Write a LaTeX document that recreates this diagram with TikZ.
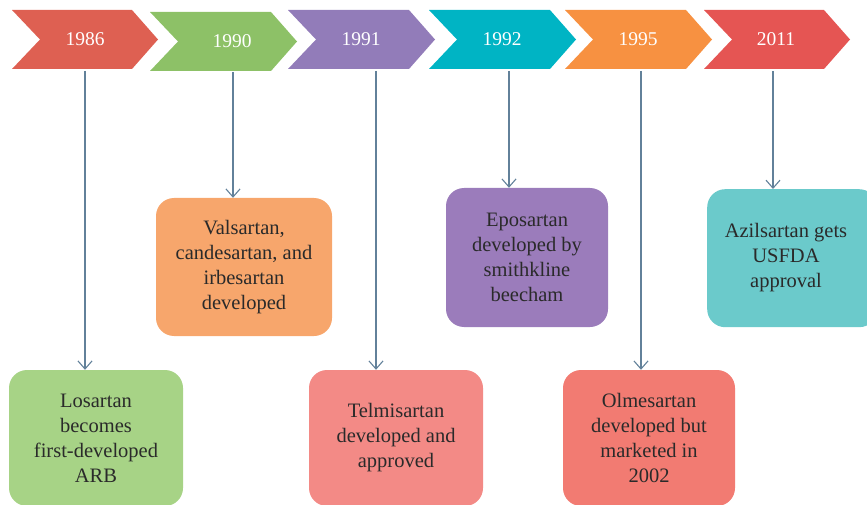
\documentclass[tikz,border=0pt]{standalone}
\usepackage{fontspec}
\setmainfont{Liberation Serif}
\usetikzlibrary{arrows.meta}
\definecolor{c86}{HTML}{DE6052}
\definecolor{c90}{HTML}{8DC167}
\definecolor{c91}{HTML}{927CB9}
\definecolor{c92}{HTML}{00B4C4}
\definecolor{c95}{HTML}{F79141}
\definecolor{c11}{HTML}{E55553}
\definecolor{b1}{HTML}{A7D386}
\definecolor{b2}{HTML}{F7A66C}
\definecolor{b3}{HTML}{F38A86}
\definecolor{b4}{HTML}{9B7CBB}
\definecolor{b5}{HTML}{F27B72}
\definecolor{b6}{HTML}{6BCACB}
\definecolor{arrc}{HTML}{62819A}
\definecolor{txt}{HTML}{2A2A2A}
\tikzset{
  year/.style={text=white, font=\fontsize{19.5}{23}\selectfont, inner sep=0pt},
  evbox/.style={rectangle, rounded corners=18pt, inner sep=0pt, align=center,
    text=txt, font=\fontsize{20.5}{25}\selectfont},
  arr/.style={draw=arrc, line width=1.1pt, -{Straight Barb[length=8pt,width=14pt,line width=1.1pt]}},
}
\newcommand{\chev}[5]{% left, top, bottom, width, color
  \fill[#5] (#1,#2) -- ({#1+#4-26},#2) -- ({#1+#4},{(#2+#3)/2}) -- ({#1+#4-26},#3)
    -- (#1,#3) -- ({#1+28},{(#2+#3)/2}) -- cycle;}
\begin{document}
\begin{tikzpicture}[x=1pt,y=-1pt]
\useasboundingbox (0,0) rectangle (867,505);
% chevrons
\chev{12}{10}{69}{146}{c86}
\chev{150}{12}{71}{147}{c90}
\chev{288}{10}{69}{147}{c91}
\chev{429}{10}{69}{147}{c92}
\chev{565}{10}{69}{147}{c95}
\chev{704}{10}{69}{146}{c11}
\node[year] (y1986) at (85,39.5) {1986};
\node[year] (y1990) at (232,41.5) {1990};
\node[year] (y1991) at (361,39.5) {1991};
\node[year] (y1992) at (502,39.5) {1992};
\node[year] (y1995) at (638,39.5) {1995};
\node[year] (y2011) at (776,39.5) {2011};
% start coordinates
\coordinate (s1986) at (85,71);
\coordinate (s1990) at (233,72);
\coordinate (s1991) at (376,71);
\coordinate (s1992) at (509,71);
\coordinate (s1995) at (641,71);
\coordinate (s2011) at (773,71);
% boxes
\node[evbox, fill=b1, minimum width=174pt, minimum height=136pt] (e1986) at (96,438)
  {Losartan\\becomes\\first-developed\\ARB};
\node[evbox, fill=b2, minimum width=176pt, minimum height=138pt] (e1990) at (244,267)
  {Valsartan,\\candesartan, and\\irbesartan\\developed};
\node[evbox, fill=b3, minimum width=174pt, minimum height=136pt] (e1991) at (396,438)
  {Telmisartan\\developed and\\approved};
\node[evbox, fill=b4, minimum width=162pt, minimum height=139pt] (e1992) at (527,257.5)
  {Eposartan\\developed by\\smithkline\\beecham};
\node[evbox, fill=b5, minimum width=172pt, minimum height=136pt] (e1995) at (649,438)
  {Olmesartan\\developed but\\marketed in\\2002};
\node[evbox, fill=b6, minimum width=170pt, minimum height=138pt, anchor=north west] (e2011) at (707,189) {};
\node[evbox] (t2011) at (786,258) {Azilsartan gets\\USFDA\\approval};
% connectors
\draw[arr] (s1986) -- (s1986 |- e1986.north);
\draw[arr] (s1990) -- (s1990 |- e1990.north);
\draw[arr] (s1991) -- (s1991 |- e1991.north);
\draw[arr] (s1992) -- (s1992 |- e1992.north);
\draw[arr] (s1995) -- (s1995 |- e1995.north);
\draw[arr] (s2011) -- (s2011 |- e2011.north);
\end{tikzpicture}
\end{document}
